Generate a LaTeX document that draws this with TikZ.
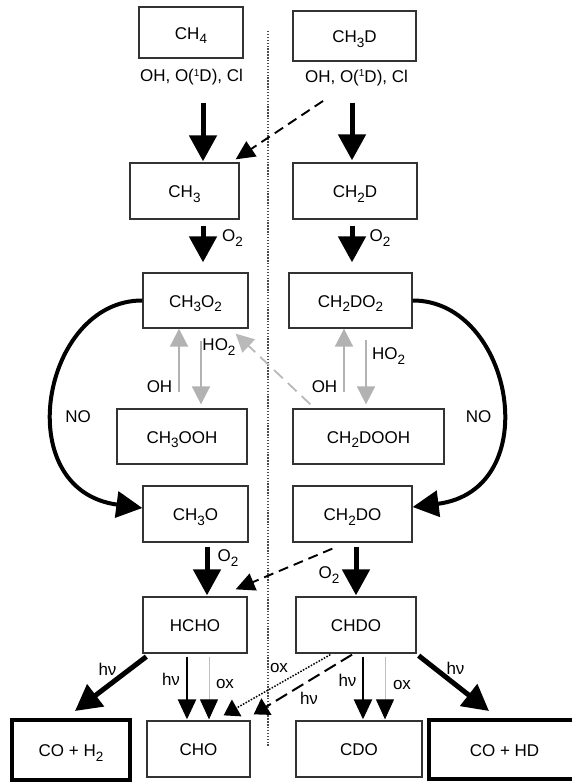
\documentclass[tikz,border=0pt]{standalone}
\usepackage{fontspec}
\setmainfont{Liberation Sans}
\usetikzlibrary{arrows.meta,calc}
\newcommand{\chs}[1]{\raisebox{-4.5pt}{\fontsize{13.5}{14}\selectfont #1}}
\newcommand{\chsup}[1]{\raisebox{5.5pt}{\fontsize{10}{11}\selectfont #1}}
\begin{document}
\begin{tikzpicture}[x=1pt,y=-1pt,
  font=\fontsize{17}{20}\selectfont,
  box/.style={draw=black!80, line width=1.3pt, inner sep=0pt, text height=13pt, text depth=0pt},
  tbox/.style={box, draw=black, line width=4pt},
  lbl/.style={inner sep=0pt, text height=13pt, text depth=0pt},
  bigarrow/.style={line width=5pt, -{Triangle[length=26pt,width=27pt]}},
  noarrow/.style={line width=4pt, -{Triangle[length=26pt,width=26pt]}},
  grayarrow/.style={draw=gray!60, line width=1.8pt, -{Triangle[length=18pt,width=18pt]}},
  hvarrow/.style={line width=2.6pt, -{Triangle[length=20pt,width=18pt]}},
  oxarrow/.style={draw=black!25, line width=1pt, -{Triangle[length=20pt,width=18pt,color=black]}},
  dasharrow/.style={line width=1.9pt, dash pattern=on 10pt off 6pt, -{Triangle[length=19pt,width=18pt]}},
  graydash/.style={draw=gray!55, line width=1.8pt, dash pattern=on 12pt off 7pt, -{Triangle[length=18pt,width=18pt]}},
  dotarrow/.style={line width=1.5pt, dash pattern=on 1.5pt off 1.5pt, -{Triangle[length=15pt,width=19pt]}},
  dasharrowb/.style={line width=2pt, dash pattern=on 13pt off 6pt, -{Triangle[length=15pt,width=19pt]}},
  sep/.style={draw=black!70, line width=1.4pt, dash pattern=on 1.4pt off 1.5pt}
]
\useasboundingbox (0,0) rectangle (572,782);

% separator
\coordinate (septop) at (268,31);
\coordinate (sepbot) at (268,747);
\draw[sep] (septop) -- (sepbot);

% boxes
\node[box, minimum width=104pt, minimum height=51pt] (ch4) at (191,32.5) {CH\chs{4}};
\node[box, minimum width=123pt, minimum height=50pt] (ch3d) at (354.5,36) {CH\chs{3}D};
\node[lbl] (lab1) at (191.5,75) {OH, O(\chsup{1}D), Cl};
\node[lbl] (lab2) at (356.5,75.5) {OH, O(\chsup{1}D), Cl};
\node[box, minimum width=109pt, minimum height=56pt] (ch3) at (184.5,191) {CH\chs{3}};
\node[box, minimum width=124pt, minimum height=56pt] (ch2d) at (355,191) {CH\chs{2}D};
\node[box, minimum width=105pt, minimum height=55pt] (ch3o2) at (195.5,300.5) {CH\chs{3}O\chs{2}};
\node[box, minimum width=123pt, minimum height=55pt] (ch2do2) at (350.5,300.5) {CH\chs{2}DO\chs{2}};
\node[box, minimum width=130pt, minimum height=55pt] (ch3ooh) at (182,436.5) {CH\chs{3}OOH};
\node[box, minimum width=151pt, minimum height=55pt] (ch2dooh) at (368.5,436.5) {CH\chs{2}DOOH};
\node[box, minimum width=105pt, minimum height=56pt] (ch3o) at (195.5,514) {CH\chs{3}O};
\node[box, minimum width=119pt, minimum height=56pt] (ch2do) at (352.5,514) {CH\chs{2}DO};
\node[box, minimum width=104pt, minimum height=56pt] (hcho) at (195,625) {HCHO};
\node[box, minimum width=120pt, minimum height=56pt] (chdo) at (356,625) {CHDO};
\node[tbox, minimum width=118pt, minimum height=60pt] (coh2) at (71,750) {CO + H\chs{2}};
\node[box, minimum width=103pt, minimum height=56pt] (cho) at (198.5,749) {CHO};
\node[box, minimum width=126pt, minimum height=56pt] (cdo) at (359,749) {CDO};
\node[tbox, minimum width=151pt, minimum height=59pt] (cohd) at (504.5,749.5) {CO + HD};

% x positions of vertical connectors
\coordinate (xa) at (203,0);
\coordinate (xb) at (352,0);
\coordinate (xc) at (179,0);
\coordinate (xd) at (201,0);
\coordinate (xe) at (344,0);
\coordinate (xf) at (366,0);
\coordinate (xg) at (207,0);
\coordinate (xh) at (356,0);
\coordinate (xi) at (187,0);
\coordinate (xj) at (209,0);
\coordinate (xk) at (363,0);
\coordinate (xl) at (385,0);
\coordinate (d1) at (323,101);

% top
\draw[bigarrow, shorten <=44pt, shorten >=1pt] (ch4.south -| xa) -- (ch3.north -| xa);
\draw[bigarrow, shorten <=41pt, shorten >=2pt] (ch3d.south -| xb) -- (ch2d.north -| xb);
\draw[dasharrow] (d1) -- ($(ch3.north east)+(-4,-3)$);

% O2
\draw[bigarrow, shorten <=6pt, shorten >=10pt] (ch3.south -| xa) -- (ch3o2.north -| xa);
\draw[bigarrow, shorten <=6pt, shorten >=10pt] (ch2d.south -| xb) -- (ch2do2.north -| xb);
\node[lbl] (o2a) at (232.5,235) {O\chs{2}};
\node[lbl] (o2b) at (380,235) {O\chs{2}};

% peroxide exchange
\draw[grayarrow, shorten <=16pt] (ch3ooh.north -| xc) -- (ch3o2.south -| xc);
\draw[grayarrow, shorten <=12pt, shorten >=4pt] (ch3o2.south -| xd) -- (ch3ooh.north -| xd);
\draw[grayarrow, shorten <=16pt] (ch2dooh.north -| xe) -- (ch2do2.south -| xe);
\draw[grayarrow, shorten <=11pt, shorten >=4pt] (ch2do2.south -| xf) -- (ch2dooh.north -| xf);
\draw[graydash] ($(ch2dooh.north west)+(18,-4)$) -- ($(ch3o2.south east)+(-13,5)$);
\node[lbl] (ho2a) at (219,344) {HO\chs{2}};
\node[lbl] (ho2b) at (388.5,353) {HO\chs{2}};
\node[lbl] (oha) at (159.5,386) {OH};
\node[lbl] (ohb) at (324.5,386) {OH};

% NO
\draw[noarrow] (ch3o2.west) .. controls (42,300) and (8,490) .. ($(ch3o.west)+(0,-6)$);
\draw[noarrow] (ch2do2.east) .. controls (513,300) and (547,490) .. ($(ch2do.east)+(0,-7)$);
\node[lbl] (noa) at (78,416) {NO};
\node[lbl] (nob) at (478.5,416) {NO};

% to formaldehyde
\draw[bigarrow, shorten <=4pt, shorten >=1pt] (ch3o.south -| xg) -- (hcho.north -| xg);
\draw[bigarrow, shorten <=4pt, shorten >=1pt] (ch2do.south -| xh) -- (chdo.north -| xh);
\draw[dasharrow] ($(ch2do.south west)+(40,6)$) -- ($(hcho.north east)+(-12,-7)$);
\node[lbl] (o2c) at (228,555) {O\chs{2}};
\node[lbl] (o2d) at (329,572) {O\chs{2}};

% formaldehyde loss
\draw[bigarrow] ($(hcho.south west)+(4,3)$) -- ($(coh2.north)+(4,-7)$);
\draw[hvarrow, shorten <=3pt, shorten >=1pt] (hcho.south -| xi) -- (cho.north -| xi);
\draw[oxarrow, shorten <=3pt, shorten >=1pt] (hcho.south -| xj) -- (cho.north -| xj);
\draw[dotarrow] ($(chdo.south west)+(35,1)$) -- ($(cho.north east)+(-27,-5)$);
\draw[dasharrowb] ($(chdo.south)+(-4,1)$) -- ($(cho.north east)+(3,-6)$);
\draw[hvarrow, shorten <=3pt, shorten >=1pt] (chdo.south -| xk) -- (cdo.north -| xk);
\draw[oxarrow, shorten <=3pt, shorten >=1pt] (chdo.south -| xl) -- (cdo.north -| xl);
\draw[bigarrow] ($(chdo.south east)+(2,2)$) -- ($(cohd.north)+(-15.5,-7)$);

\node[lbl] (hv1) at (107.5,669) {hν};
\node[lbl] (hv2) at (171,679) {hν};
\node[lbl] (ox1) at (225,682) {ox};
\node[lbl] (ox2) at (279,666) {ox};
\node[lbl] (hv3) at (309,698) {hν};
\node[lbl] (hv4) at (347.5,680) {hν};
\node[lbl] (ox3) at (402,683) {ox};
\node[lbl] (hv5) at (455.5,668) {hν};
\end{tikzpicture}
\end{document}
